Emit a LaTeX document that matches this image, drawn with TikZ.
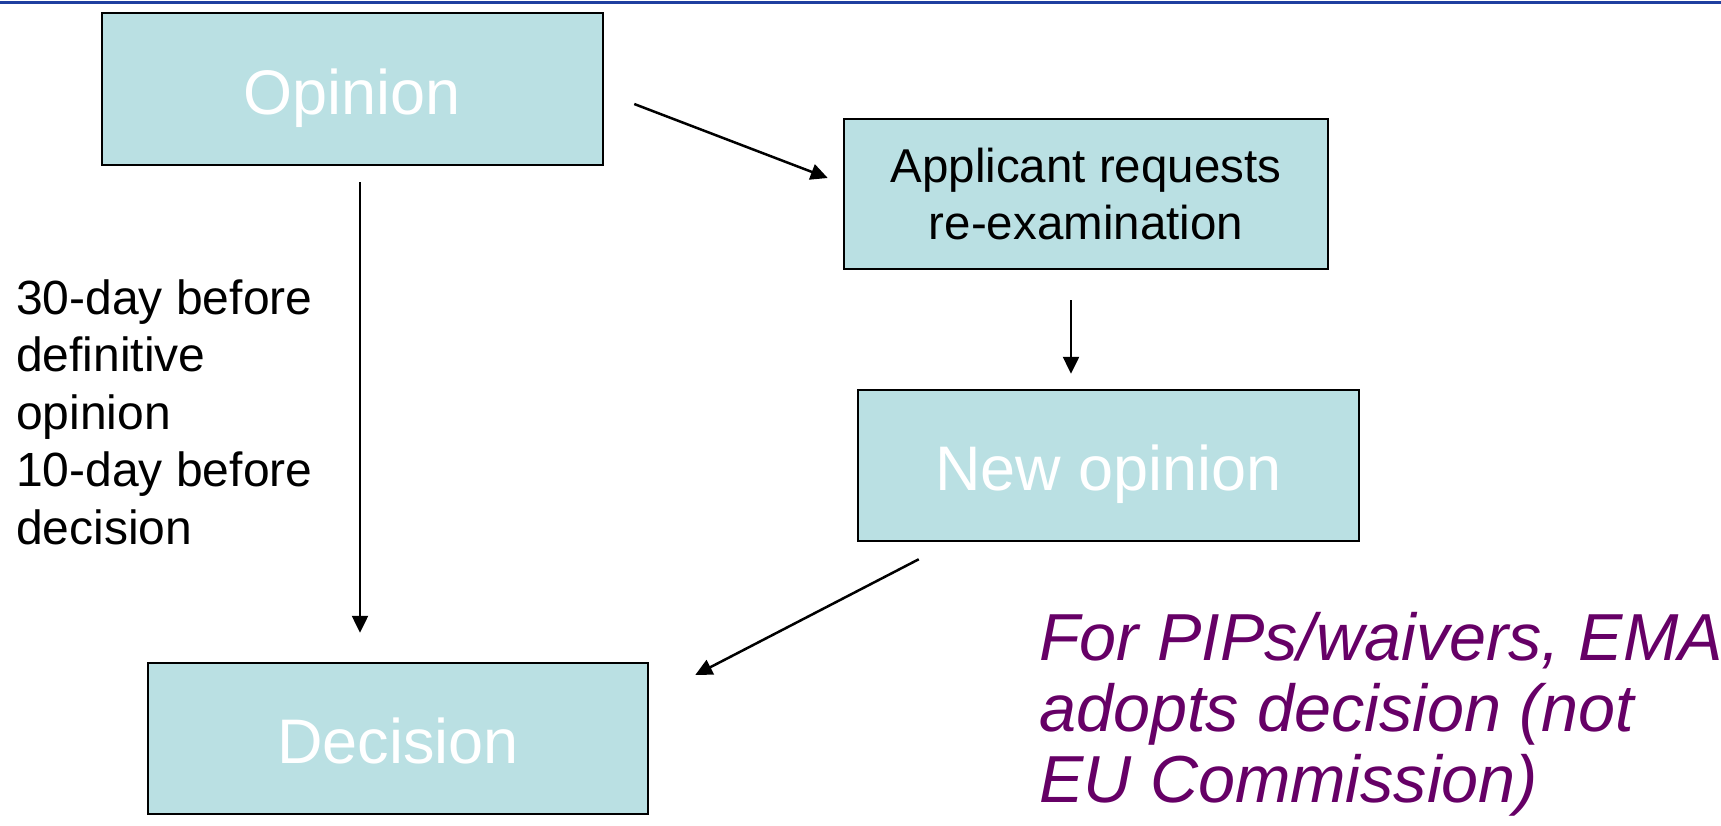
\documentclass[tikz,border=0pt]{standalone}
\usepackage{fontspec}
\setmainfont{Liberation Sans}
\usetikzlibrary{arrows.meta, positioning, calc}
\usepackage{xcolor}
\definecolor{boxfill}{RGB}{186,224,227}
\definecolor{notepurple}{RGB}{102,0,102}
\definecolor{rulerblue}{RGB}{31,63,160}

\begin{document}
\begin{tikzpicture}[x=1pt,y=-1pt,line width=2.5pt]
    \tikzstyle{stage}=[rectangle,fill=boxfill,draw=black,line width=2.5pt,inner sep=0pt]
    \tikzstyle{big stage}=[stage,text=white,text height=55pt,text depth=5pt,font=\fontsize{63}{70}\selectfont]
    \tikzstyle{small stage}=[stage,align=center,font=\fontsize{47.5}{57}\selectfont]
    \tikzstyle{flow}=[-{Triangle[length=17pt,width=16pt]},line width=2.5pt,black]
    \tikzstyle{annot}=[inner sep=0pt,align=left,anchor=north west]

    \useasboundingbox (0,0) rectangle (1721,825);

    % Draw the rule across the top
    \draw[rulerblue,line width=3pt] (0,2) -- (1721,2);

    % Draw the stages
    \node[big stage,minimum width=501pt,minimum height=152pt] (opinion) at (352.5,89) {Opinion};
    \node[small stage,minimum width=484pt,minimum height=150pt] (request) at (1086,194) {Applicant requests\\re-examination};
    \node[big stage,minimum width=501pt,minimum height=151pt] (newop) at (1108.5,465.5) {New opinion};
    \node[big stage,minimum width=500pt,minimum height=151pt] (decision) at (398,738.5) {Decision};

    % Connect the stages
    \draw[flow] ($(opinion.east)+(30,15)$) -- ($(request.west)+(-15,-16)$);
    \draw[flow] ($(request.south)+(-15,30)$) -- ($(newop.north)+(-37.5,-15)$);
    \draw[flow] ($(opinion.south)+(7.5,16)$) -- ($(decision.north)+(-38,-29)$);
    \draw[flow] ($(newop.south west)+(62,17)$) -- ($(decision.east)+(46,-63.5)$);

    % Notes
    \node[annot,font=\fontsize{48}{57.5}\selectfont] (timing) at (15,278)
        {30-day before\\definitive\\opinion\\10-day before\\decision};
    \node[annot,text=notepurple,font=\fontsize{66.5}{71}\selectfont\itshape] (note) at (1038,611)
        {For PIPs/waivers, EMA\\adopts decision (not\\EU Commission)};
\end{tikzpicture}
\end{document}
